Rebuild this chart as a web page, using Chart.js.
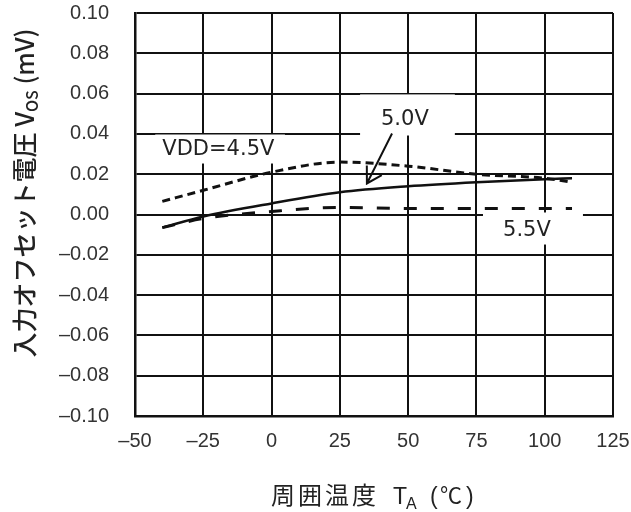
<!DOCTYPE html>
<html>
<head>
<meta charset="utf-8">
<script src="https://cdn.jsdelivr.net/npm/chart.js@4"></script>
<style>
  html, body { margin: 0; padding: 0; background: #fff; }
  #wrap { width: 631px; height: 512px; }
</style>
</head>
<body>
<div id="wrap"><canvas id="vosChart"></canvas></div>
<script>
// temperatures (°C)
var temps = [-40, -25, 0, 25, 50, 75, 100, 110];
// input offset voltage (mV) per VDD
var vdd45 = [0.0065, 0.012, 0.021, 0.026, 0.024, 0.020, 0.018, 0.016];
var vdd50 = [-0.0065, -0.001, 0.0055, 0.011, 0.014, 0.016, 0.0175, 0.018];
var vdd55 = [-0.0065, -0.002, 0.0015, 0.0035, 0.003, 0.003, 0.003, 0.003];

var yTickValues = [0.10, 0.08, 0.06, 0.04, 0.02, 0.00, -0.02, -0.04, -0.06, -0.08, -0.10];
var yTickLabels = ["0.10", "0.08", "0.06", "0.04", "0.02", "0.00", "\u20130.02", "\u20130.04", "\u20130.06", "\u20130.08", "\u20130.10"];
var xTickValues = [-50, -25, 0, 25, 50, 75, 100, 125];
var xTickLabels = ["\u201350", "\u201325", "0", "25", "50", "75", "100", "125"];

function pts(ys) {
  return temps.map(function (t, i) { return { x: t, y: ys[i] }; });
}

function lookup(vals, labels, v) {
  for (var i = 0; i < vals.length; i++) {
    if (Math.abs(vals[i] - v) < 1e-6) return labels[i];
  }
  return '';
}

// label boxes / texts / arrow placed in data coordinates
var notes = {
  boxes: [
    { x0: -42.6, x1: 4.9, y0: 0.0397, y1: 0.0253 },
    { x0: 32.4, x1: 67.1, y0: 0.0596, y1: 0.0392 },
    { x0: 77.4, x1: 114, y0: 0.001, y1: -0.0149 }
  ],
  texts: [
    { text: 'VDD=4.5V', x: -40, y: 0.032, align: 'left' },
    { text: '5.0V', x: 48.8, y: 0.0471, align: 'center' },
    { text: '5.5V', x: 93.5, y: -0.0079, align: 'center' }
  ],
  arrow: { x0: 44.1, y0: 0.0402, x1: 34.9, y1: 0.0154 }
};

var notesPlugin = {
  id: 'notes',
  beforeDatasetsDraw: function (chart) {
    var c = chart.ctx, xs = chart.scales.x, ys = chart.scales.y;
    c.save();
    c.fillStyle = '#fff';
    notes.boxes.forEach(function (b) {
      var l = xs.getPixelForValue(b.x0), r = xs.getPixelForValue(b.x1);
      var t = ys.getPixelForValue(b.y0), bt = ys.getPixelForValue(b.y1);
      c.fillRect(l, t, r - l, bt - t);
    });
    c.fillStyle = '#222';
    c.font = '21px "DejaVu Sans"';
    c.textBaseline = 'middle';
    notes.texts.forEach(function (n) {
      c.textAlign = n.align;
      c.fillText(n.text, xs.getPixelForValue(n.x), ys.getPixelForValue(n.y));
    });
    c.restore();
  },
  afterDatasetsDraw: function (chart) {
    var c = chart.ctx, xs = chart.scales.x, ys = chart.scales.y;
    var a = notes.arrow;
    var sx = xs.getPixelForValue(a.x0), sy = ys.getPixelForValue(a.y0);
    var ex = xs.getPixelForValue(a.x1), ey = ys.getPixelForValue(a.y1);
    var back = Math.atan2(sy - ey, sx - ex);
    c.save();
    c.strokeStyle = '#111';
    c.lineWidth = 2;
    c.beginPath();
    c.moveTo(sx, sy);
    c.lineTo(ex, ey);
    c.moveTo(ex + 18 * Math.cos(back - 0.47), ey + 18 * Math.sin(back - 0.47));
    c.lineTo(ex, ey);
    c.lineTo(ex + 17 * Math.cos(back + 0.6), ey + 17 * Math.sin(back + 0.6));
    c.stroke();
    c.restore();
  },
  afterDraw: function (chart) {
    var c = chart.ctx;
    c.save();
    c.fillStyle = '#222';
    c.textBaseline = 'alphabetic';
    c.textAlign = 'left';

    // x axis title: 周囲温度  T_A (℃)
    var by = 504;
    c.font = '24px "Noto Sans CJK JP"';
    c.letterSpacing = '3px';
    c.fillText('周囲温度', 271, by);
    c.letterSpacing = '0px';
    c.font = '23px "Liberation Sans"';
    c.fillText('T', 393, by);
    c.font = '16px "Liberation Sans"';
    c.fillText('A', 406, by + 5);
    c.font = '23px "Liberation Sans"';
    c.fillText('(', 430, by);
    c.font = '22px "Noto Sans CJK JP"';
    c.fillText('℃', 440, by - 1);
    c.font = '23px "Liberation Sans"';
    c.fillText(')', 466, by);

    // y axis title: 入力オフセット電圧 V_OS (mV)
    c.translate(34, 193);
    c.rotate(-Math.PI / 2);
    var yb = '500 25px "Noto Sans CJK JP"', ys2 = '500 16px "Noto Sans CJK JP"';
    var q1 = '入力オフセット電圧 V', q2 = 'OS', q3 = ' (mV)';
    c.font = yb; var v1 = c.measureText(q1).width, v3 = c.measureText(q3).width;
    c.font = ys2; var v2 = c.measureText(q2).width;
    var sx = -(v1 + v2 + v3) / 2;
    c.font = yb; c.fillText(q1, sx, 0);
    c.font = ys2; c.fillText(q2, sx + v1, 4);
    c.font = yb; c.fillText(q3, sx + v1 + v2, 0);
    c.restore();
  }
};

var ctx = document.getElementById('vosChart');
var vosChart = new Chart(ctx, {
  type: 'line',
  data: {
    datasets: [
      {
        label: 'VDD=4.5V',
        data: pts(vdd45),
        borderColor: '#111',
        borderWidth: 3,
        borderDash: [8, 5],
        pointRadius: 0,
        cubicInterpolationMode: 'monotone',
        fill: false
      },
      {
        label: '5.0V',
        data: pts(vdd50),
        borderColor: '#111',
        borderWidth: 2.5,
        pointRadius: 0,
        cubicInterpolationMode: 'monotone',
        fill: false
      },
      {
        label: '5.5V',
        data: pts(vdd55),
        borderColor: '#111',
        borderWidth: 3,
        borderDash: [13, 14],
        pointRadius: 0,
        cubicInterpolationMode: 'monotone',
        fill: false
      }
    ]
  },
  options: {
    responsive: true,
    maintainAspectRatio: false,
    animation: false,
    layout: { padding: { top: 13, right: 18, left: 0, bottom: 0 } },
    plugins: {
      legend: { display: false },
      tooltip: { enabled: false }
    },
    scales: {
      x: {
        type: 'linear',
        min: -50,
        max: 125,
        afterBuildTicks: function (s) {
          s.ticks = xTickValues.map(function (v) { return { value: v }; });
        },
        afterFit: function (s) { s.height = 96; },
        grid: { color: '#111', lineWidth: 2, drawTicks: true, tickLength: 12, tickColor: 'rgba(0,0,0,0)' },
        border: { color: '#111', width: 2.5 },
        ticks: {
          padding: 1,
          color: '#333',
          font: { family: 'Liberation Sans', size: 20 },
          maxRotation: 0,
          callback: function (v) { return lookup(xTickValues, xTickLabels, v); }
        }
      },
      y: {
        min: -0.1,
        max: 0.1,
        afterBuildTicks: function (s) {
          s.ticks = yTickValues.map(function (v) { return { value: v }; });
        },
        afterFit: function (s) { s.width = 135; },
        grid: { color: '#111', lineWidth: 2, drawTicks: true, tickLength: 25, tickColor: 'rgba(0,0,0,0)' },
        border: { color: '#111', width: 2.5 },
        ticks: {
          padding: 1,
          color: '#333',
          font: { family: 'Liberation Sans', size: 20 },
          callback: function (v) { return lookup(yTickValues, yTickLabels, v); }
        }
      }
    }
  },
  plugins: [notesPlugin]
});
</script>
</body>
</html>
